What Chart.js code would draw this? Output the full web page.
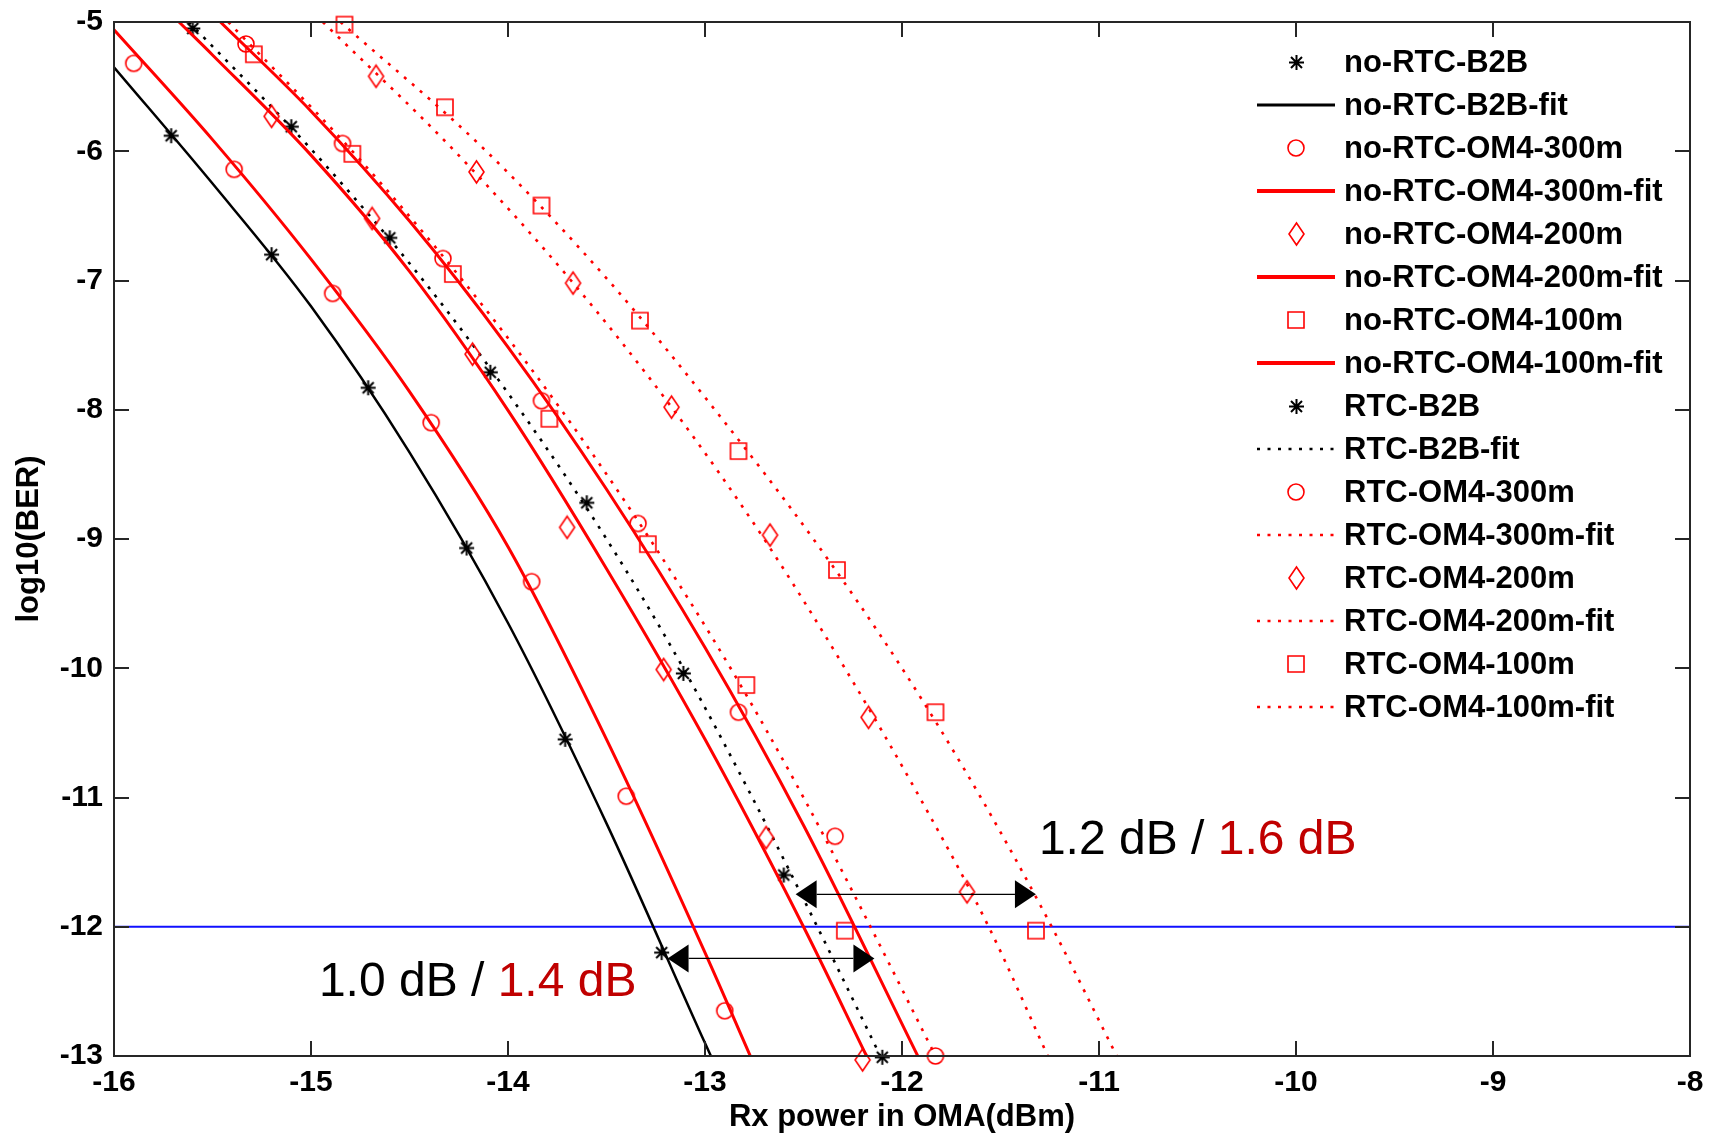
<!DOCTYPE html>
<html><head><meta charset="utf-8">
<script src="https://cdn.jsdelivr.net/npm/chart.js@4.4.1/dist/chart.umd.min.js"></script>
<style>html,body{margin:0;padding:0;background:#fff;}canvas{display:block;}</style>
</head><body>
<canvas id="c" width="1709" height="1136"></canvas>
<script>
// ---------- axis ticks ----------
const xTicks = [-16, -15, -14, -13, -12, -11, -10, -9, -8];
const yTicks = [-13, -12, -11, -10, -9, -8, -7, -6, -5];

// ---------- measured points ----------
const noRtcB2B_x = [-15.71, -15.20, -14.71, -14.21, -13.71, -13.22];
const noRtcB2B_y = [-5.88, -6.80, -7.83, -9.07, -10.55, -12.20];
const noRtc300_x = [-15.90, -15.39, -14.89, -14.39, -13.88, -13.40, -12.90];
const noRtc300_y = [-5.32, -6.14, -7.10, -8.10, -9.33, -10.99, -12.65];
const noRtc200_x = [-15.20, -14.69, -14.18, -13.70, -13.21, -12.69, -12.20];
const noRtc200_y = [-5.73, -6.52, -7.57, -8.91, -10.01, -11.31, -13.03];
const noRtc100_x = [-15.29, -14.79, -14.28, -13.79, -13.29, -12.79, -12.29];
const noRtc100_y = [-5.25, -6.02, -6.95, -8.07, -9.04, -10.13, -12.03];
const rtcB2B_x = [-15.60, -15.10, -14.60, -14.09, -13.60, -13.11, -12.60, -12.10];
const rtcB2B_y = [-5.05, -5.81, -6.67, -7.71, -8.72, -10.04, -11.60, -13.01];
const rtc300_x = [-15.33, -14.84, -14.33, -13.83, -13.34, -12.83, -12.34, -11.83];
const rtc300_y = [-5.17, -5.94, -6.83, -7.93, -8.88, -10.34, -11.30, -13.00];
const rtc200_x = [-14.67, -14.16, -13.67, -13.17, -12.67, -12.17, -11.67];
const rtc200_y = [-5.42, -6.16, -7.02, -7.98, -8.97, -10.38, -11.73];
const rtc100_x = [-14.83, -14.32, -13.83, -13.33, -12.83, -12.33, -11.83, -11.32];
const rtc100_y = [-5.02, -5.66, -6.42, -7.31, -8.32, -9.24, -10.34, -12.03];

// ---------- fitted curves ----------
const fitNoRtcB2B_x = [-16.00, -15.50, -15.00, -14.50, -14.00, -13.50, -13.00, -12.97];
const fitNoRtcB2B_y = [-5.35, -6.25, -7.20, -8.33, -9.65, -11.20, -12.90, -13.00];
const fitNoRtc300_x = [-16.00, -15.50, -15.00, -14.50, -14.00, -13.50, -13.00, -12.77];
const fitNoRtc300_y = [-5.06, -5.91, -6.835, -7.86, -9.06, -10.55, -12.20, -13.00];
const fitNoRtc200_x = [-15.67, -15.50, -15.00, -14.50, -14.00, -13.50, -13.00, -12.50, -12.18];
const fitNoRtc200_y = [-5.00, -5.255, -6.03, -6.93, -8.005, -9.23, -10.55, -12.00, -13.00];
const fitNoRtc100_x = [-15.46, -15.00, -14.50, -14.00, -13.50, -13.00, -12.50, -11.92];
const fitNoRtc100_y = [-5.00, -5.69, -6.54, -7.515, -8.615, -9.84, -11.215, -13.00];
const fitRtcB2B_x = [-15.62, -14.99, -14.43, -13.94, -13.50, -13.11, -12.76, -12.43, -12.11];
const fitRtcB2B_y = [-5, -6, -7, -8, -9, -10, -11, -12, -13];
const fitRtc300_x = [-15.42, -14.79, -14.23, -13.73, -13.28, -12.87, -12.50, -12.16, -11.83];
const fitRtc300_y = [-5, -6, -7, -8, -9, -10, -11, -12, -13];
const fitRtc200_x = [-14.94, -14.27, -13.68, -13.16, -12.70, -12.29, -11.91, -11.56, -11.26];
const fitRtc200_y = [-5, -6, -7, -8, -9, -10, -11, -12, -13];
const fitRtc100_x = [-14.85, -14.11, -13.49, -12.95, -12.45, -12.00, -11.60, -11.24, -10.91];
const fitRtc100_y = [-5, -6, -7, -8, -9, -10, -11, -12, -13];

// ---------- threshold ----------
const thresholdX = [-16, -8];
const thresholdY = [-12, -12];

// ---------- annotations ----------
const arrowY  = [-12.245, -11.749];
const arrowX1 = [-13.19, -12.54];
const arrowX2 = [-12.14, -11.32];
const noteX = [-14.96, -11.305];
const noteY = [-12.535, -11.44];
const noteBlack = ['1.0 dB / ', '1.2 dB / '];
const noteRed = ['1.4 dB', '1.6 dB'];

// ---------- styling ----------
const FONT = '"Liberation Sans", Arial, sans-serif';
const RED = '#ff0000', BLACK = '#000000';

function makeMarker(kind, color) {
  const c = document.createElement('canvas');
  let w = 20, h = 20;
  if (kind === 'star') { w = h = 19; }
  if (kind === 'diamond') { w = 19; h = 26; }
  c.width = w; c.height = h;
  const g = c.getContext('2d');
  g.strokeStyle = color; g.lineWidth = kind === 'star' ? 2 : 1.6;
  const cx = w / 2, cy = h / 2;
  g.beginPath();
  if (kind === 'star') {
    const r = 7.5, d = 5.5;
    g.moveTo(cx - r, cy); g.lineTo(cx + r, cy);
    g.moveTo(cx, cy - r); g.lineTo(cx, cy + r);
    g.moveTo(cx - d, cy - d); g.lineTo(cx + d, cy + d);
    g.moveTo(cx - d, cy + d); g.lineTo(cx + d, cy - d);
  } else if (kind === 'circle') {
    g.arc(cx, cy, 8, 0, Math.PI * 2);
  } else if (kind === 'diamond') {
    g.moveTo(cx, cy - 11); g.lineTo(cx + 7.5, cy); g.lineTo(cx, cy + 11); g.lineTo(cx - 7.5, cy); g.closePath();
  } else {
    g.rect(cx - 8, cy - 8, 16, 16);
  }
  g.stroke();
  return c;
}
const mStar = makeMarker('star', BLACK);
const mCircle = makeMarker('circle', RED);
const mDiamond = makeMarker('diamond', RED);
const mSquare = makeMarker('square', RED);

const pts = (xs, ys) => xs.map((x, i) => ({ x: x, y: ys[i] }));
const markerSet = (label, xs, ys, style) => ({
  label, data: pts(xs, ys), showLine: false, pointStyle: style,
  pointRadius: 6, pointHoverRadius: 6, clip: false, borderColor: style === mStar ? BLACK : RED
});
const fitSet = (label, xs, ys, color, dotted) => ({
  label, data: pts(xs, ys), showLine: true, borderColor: color,
  borderWidth: dotted ? 2.6 : (color === RED ? 3 : 2.5), borderDash: dotted ? [3, 7.5] : [],
  pointRadius: 0, cubicInterpolationMode: 'monotone', fill: false
});

const datasets = [
  markerSet('no-RTC-B2B', noRtcB2B_x, noRtcB2B_y, mStar),
  fitSet('no-RTC-B2B-fit', fitNoRtcB2B_x, fitNoRtcB2B_y, BLACK, false),
  markerSet('no-RTC-OM4-300m', noRtc300_x, noRtc300_y, mCircle),
  fitSet('no-RTC-OM4-300m-fit', fitNoRtc300_x, fitNoRtc300_y, RED, false),
  markerSet('no-RTC-OM4-200m', noRtc200_x, noRtc200_y, mDiamond),
  fitSet('no-RTC-OM4-200m-fit', fitNoRtc200_x, fitNoRtc200_y, RED, false),
  markerSet('no-RTC-OM4-100m', noRtc100_x, noRtc100_y, mSquare),
  fitSet('no-RTC-OM4-100m-fit', fitNoRtc100_x, fitNoRtc100_y, RED, false),
  markerSet('RTC-B2B', rtcB2B_x, rtcB2B_y, mStar),
  fitSet('RTC-B2B-fit', fitRtcB2B_x, fitRtcB2B_y, BLACK, true),
  markerSet('RTC-OM4-300m', rtc300_x, rtc300_y, mCircle),
  fitSet('RTC-OM4-300m-fit', fitRtc300_x, fitRtc300_y, RED, true),
  markerSet('RTC-OM4-200m', rtc200_x, rtc200_y, mDiamond),
  fitSet('RTC-OM4-200m-fit', fitRtc200_x, fitRtc200_y, RED, true),
  markerSet('RTC-OM4-100m', rtc100_x, rtc100_y, mSquare),
  fitSet('RTC-OM4-100m-fit', fitRtc100_x, fitRtc100_y, RED, true),
  { label: '', data: pts(thresholdX, thresholdY), showLine: true, borderColor: '#1010ff',
    borderWidth: 2, pointRadius: 0, isThreshold: true }
];

// ---------- plugins ----------
const framePlugin = {
  id: 'frame',
  afterDatasetsDraw(chart) {
    const { ctx, chartArea: a, scales: { x, y } } = chart;
    ctx.save();
    ctx.strokeStyle = '#262626'; ctx.lineWidth = 2;
    ctx.strokeRect(a.left, a.top, a.right - a.left, a.bottom - a.top);
    const tl = 15;
    ctx.beginPath();
    xTicks.forEach(v => {
      const px = Math.round(x.getPixelForValue(v));
      ctx.moveTo(px, a.bottom); ctx.lineTo(px, a.bottom - tl);
      ctx.moveTo(px, a.top); ctx.lineTo(px, a.top + tl);
    });
    yTicks.forEach(v => {
      const py = Math.round(y.getPixelForValue(v));
      ctx.moveTo(a.left, py); ctx.lineTo(a.left + tl, py);
      ctx.moveTo(a.right, py); ctx.lineTo(a.right - tl, py);
    });
    ctx.stroke();

    // annotations: arrows
    ctx.strokeStyle = '#000'; ctx.fillStyle = '#000'; ctx.lineWidth = 1.3;
    const hl = 21, hh = 14;
    arrowY.forEach((v, i) => {
      const py = y.getPixelForValue(v);
      const p1 = x.getPixelForValue(arrowX1[i]);
      const p2 = x.getPixelForValue(arrowX2[i]);
      ctx.beginPath(); ctx.moveTo(p1 + hl, py); ctx.lineTo(p2 - hl, py); ctx.stroke();
      ctx.beginPath(); ctx.moveTo(p1, py); ctx.lineTo(p1 + hl, py - hh); ctx.lineTo(p1 + hl, py + hh); ctx.closePath(); ctx.fill();
      ctx.beginPath(); ctx.moveTo(p2, py); ctx.lineTo(p2 - hl, py - hh); ctx.lineTo(p2 - hl, py + hh); ctx.closePath(); ctx.fill();
    });
    // annotations: text
    ctx.font = '48px ' + FONT;
    ctx.textBaseline = 'alphabetic'; ctx.textAlign = 'left';
    noteX.forEach((v, i) => {
      const px = x.getPixelForValue(v), py = y.getPixelForValue(noteY[i]);
      ctx.fillStyle = '#000';
      ctx.fillText(noteBlack[i], px, py);
      const w = ctx.measureText(noteBlack[i]).width;
      ctx.fillStyle = '#c00000';
      ctx.fillText(noteRed[i], px + w, py);
    });
    ctx.restore();
  }
};

const legendPlugin = {
  id: 'mlegend',
  afterDraw(chart) {
    const ctx = chart.ctx;
    const x0 = 1257, x1 = 1335, xm = 1296, xt = 1344, top = 62, step = 43;
    ctx.save();
    ctx.font = 'bold 31px ' + FONT;
    ctx.textBaseline = 'middle'; ctx.textAlign = 'left';
    let row = 0;
    chart.data.datasets.forEach(ds => {
      if (ds.isThreshold) return;
      const cy = top + row * step;
      if (ds.showLine === false) {
        const img = ds.pointStyle;
        ctx.drawImage(img, Math.round(xm - img.width / 2), Math.round(cy - img.height / 2));
      } else {
        ctx.save();
        ctx.strokeStyle = ds.borderColor;
        ctx.lineWidth = ds.borderDash.length ? 2.6 : (ds.borderColor === RED ? 4 : 3);
        ctx.setLineDash(ds.borderDash);
        ctx.beginPath(); ctx.moveTo(x0, cy); ctx.lineTo(x1, cy); ctx.stroke();
        ctx.restore();
      }
      ctx.fillStyle = '#000';
      ctx.fillText(ds.label, xt, cy + 1);
      row++;
    });
    ctx.restore();
  }
};

const tickFont = { family: FONT, size: 30, weight: 'bold' };
const titleFont = { family: FONT, size: 31, weight: 'bold' };

new Chart(document.getElementById('c'), {
  type: 'line',
  data: { datasets },
  options: {
    responsive: false, devicePixelRatio: 1, animation: false, events: [],
    layout: { padding: { top: 22, right: 19, left: 0, bottom: 0 } },
    plugins: { legend: { display: false }, tooltip: { enabled: false } },
    scales: {
      x: {
        type: 'linear', min: -16, max: -8,
        afterBuildTicks: s => { s.ticks = xTicks.map(v => ({ value: v })); },
        afterFit: s => { s.height = 80; s.paddingLeft = 0; s.paddingRight = 0; },
        grid: { display: false, drawTicks: false },
        border: { display: false },
        ticks: { font: tickFont, color: '#000', padding: 9, maxRotation: 0, autoSkip: false },
        title: { display: true, text: 'Rx power in OMA(dBm)', font: titleFont, color: '#000', padding: { top: 0, bottom: 0 } }
      },
      y: {
        type: 'linear', min: -13, max: -5,
        afterBuildTicks: s => { s.ticks = yTicks.map(v => ({ value: v })); },
        afterFit: s => { s.width = 114; s.paddingTop = 0; s.paddingBottom = 0; },
        grid: { display: false, drawTicks: false },
        border: { display: false },
        ticks: { font: tickFont, color: '#000', padding: 11, autoSkip: false },
        title: { display: true, text: 'log10(BER)', font: titleFont, color: '#000', padding: { top: 11, bottom: 0 } }
      }
    }
  },
  plugins: [framePlugin, legendPlugin]
});
</script>
</body></html>
